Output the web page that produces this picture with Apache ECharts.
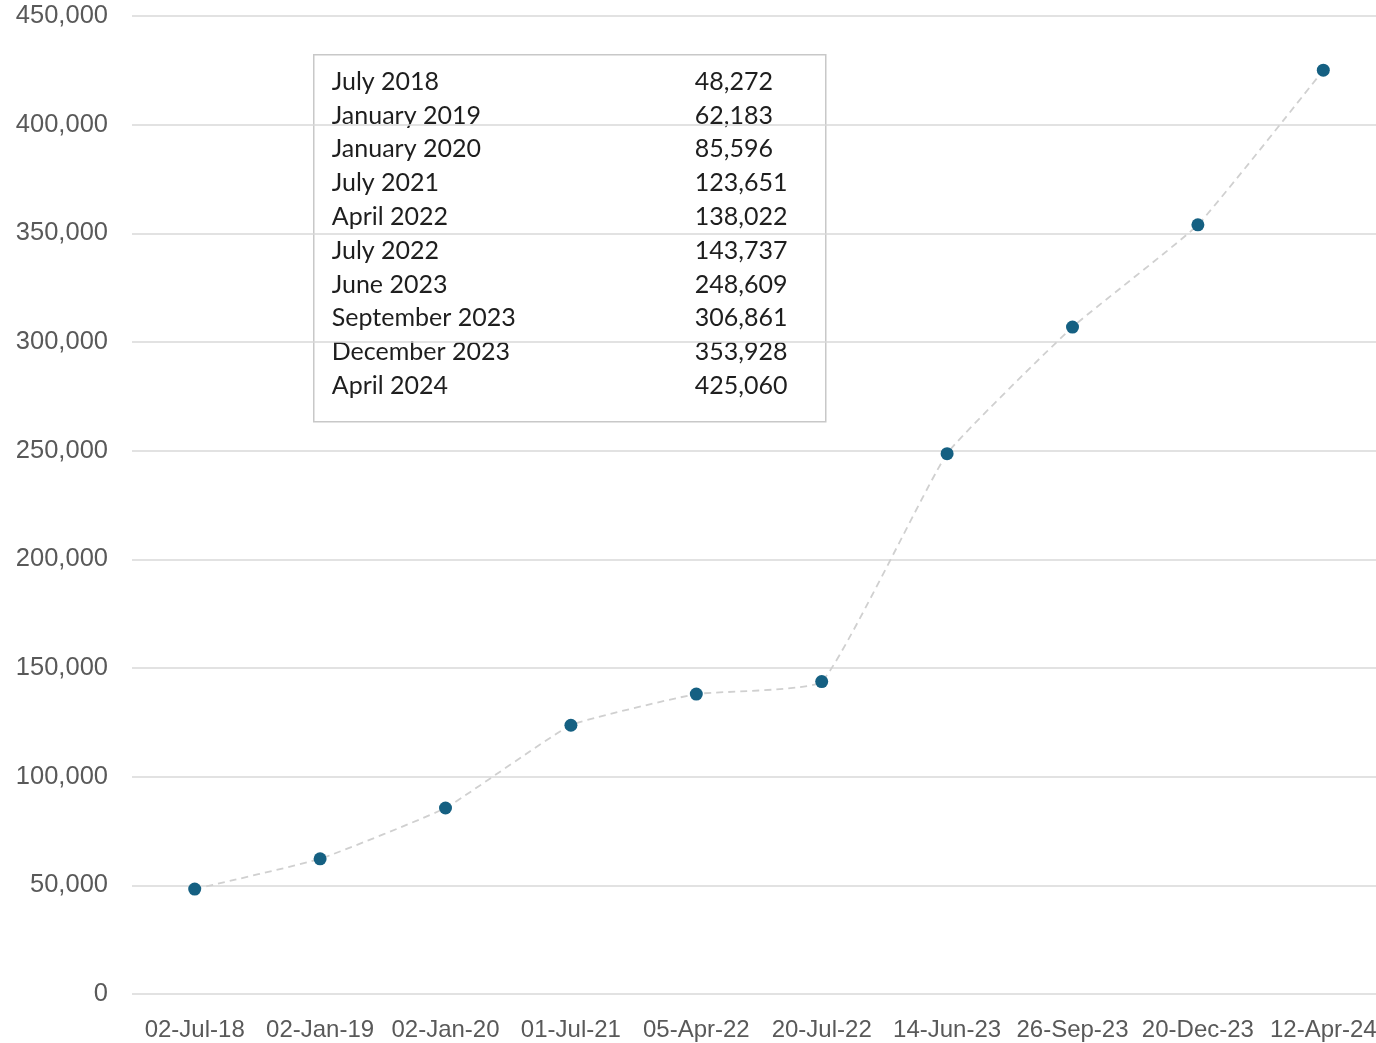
<!DOCTYPE html>
<html><head><meta charset="utf-8">
<script src="https://cdn.jsdelivr.net/npm/echarts@6/dist/echarts.min.js"></script>
<style>html,body{margin:0;padding:0;background:#fff;overflow:hidden}#c{width:1376px;height:1043px}</style>
</head><body><div id="c"></div>
<script>
const categories = ['02-Jul-18','02-Jan-19','02-Jan-20','01-Jul-21','05-Apr-22','20-Jul-22','14-Jun-23','26-Sep-23','20-Dec-23','12-Apr-24'];
const values = [48272, 62183, 85596, 123651, 138022, 143737, 248609, 306861, 353928, 425060];
const tableLabels = ['July 2018','January 2019','January 2020','July 2021','April 2022','July 2022','June 2023','September 2023','December 2023','April 2024'];

const chart = echarts.init(document.getElementById('c'));
const fmt = v => v.toLocaleString('en-US');

const tableChildren = [{
  type: 'rect', shape: {x: 0, y: 0, width: 512, height: 367},
  style: {fill: '#fff', stroke: '#c8c8c8', lineWidth: 1.5}
}];
tableLabels.forEach((l, i) => {
  tableChildren.push({type: 'text', x: 18, y: 27 + i * 33.8,
    style: {text: l, font: '25px Lato', fill: '#1e1e1e', textVerticalAlign: 'middle'}});
  tableChildren.push({type: 'text', x: 381, y: 27 + i * 33.8,
    style: {text: fmt(values[i]), font: '25px Lato', fill: '#1e1e1e', textVerticalAlign: 'middle'}});
});

chart.setOption({
  animation: false,
  grid: {left: 132, width: 1254, top: 16, bottom: 49, outerBoundsMode: 'none', containLabel: false},
  xAxis: {
    type: 'category', data: categories, boundaryGap: true,
    axisLine: {show: false}, axisTick: {show: false},
    axisLabel: {color: '#595959', fontSize: 24, fontFamily: 'Liberation Sans', margin: 24, interval: 0}
  },
  yAxis: {
    type: 'value', min: 0, max: 450000, interval: 50000,
    axisLabel: {color: '#595959', fontSize: 25.5, fontFamily: 'Liberation Sans', margin: 24,
      formatter: v => fmt(v)},
    splitLine: {lineStyle: {color: '#d9d9d9', width: 1.5}}
  },
  series: [{
    type: 'line', data: values, smooth: 0.12,
    symbol: 'circle', symbolSize: 13,
    itemStyle: {color: '#156082'},
    lineStyle: {color: '#d0d0d0', width: 1.8, type: [7, 5]}
  }],
  graphic: [{type: 'group', left: 313, top: 54, children: tableChildren}]
});
</script></body></html>
